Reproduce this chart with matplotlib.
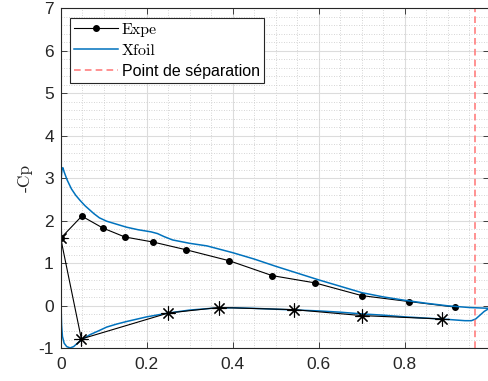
import matplotlib
matplotlib.use("Agg")
import matplotlib.pyplot as plt
from matplotlib.ticker import MultipleLocator

plt.rcParams['font.family'] = ['Liberation Sans', 'DejaVu Sans']
plt.rcParams['axes.unicode_minus'] = False

# Experimental data, upper surface (dots)
x_expe_up = [0.0, 0.049, 0.098, 0.149, 0.215, 0.291, 0.392, 0.492, 0.591, 0.700, 0.810, 0.917]
cp_expe_up = [1.59, 2.11, 1.83, 1.62, 1.50, 1.32, 1.06, 0.71, 0.54, 0.24, 0.10, -0.03]

# Experimental data, lower surface (stars)
x_expe_low = [0.0, 0.048, 0.250, 0.367, 0.543, 0.700, 0.886]
cp_expe_low = [1.59, -0.78, -0.17, -0.04, -0.09, -0.23, -0.31]

# Xfoil, from trailing edge over upper surface to leading edge, then lower surface
x_xfoil = [1.0, 0.95, 0.90, 0.85, 0.80, 0.75, 0.70, 0.65, 0.60, 0.55, 0.50, 0.45,
           0.40, 0.34, 0.30, 0.28, 0.26, 0.24, 0.225, 0.21, 0.18, 0.153, 0.13, 0.107,
           0.09, 0.077, 0.057, 0.045, 0.035, 0.025, 0.015, 0.008, 0.005, 0.003, 0.0015,
           0.0006, 0.0005, 0.0008, 0.002, 0.004, 0.008, 0.014, 0.022, 0.030, 0.040,
           0.050, 0.068, 0.090, 0.107, 0.130, 0.153, 0.20, 0.25, 0.30, 0.35, 0.40,
           0.45, 0.50, 0.55, 0.60, 0.65, 0.70, 0.75, 0.80, 0.85, 0.90, 0.94, 0.955,
           0.965, 0.975, 0.985, 0.995, 1.0]
cp_xfoil = [-0.06, -0.04, 0.00, 0.06, 0.13, 0.21, 0.31, 0.46, 0.61, 0.77, 0.93, 1.10,
            1.25, 1.41, 1.47, 1.51, 1.55, 1.63, 1.70, 1.74, 1.79, 1.85, 1.92, 1.99,
            2.07, 2.17, 2.35, 2.48, 2.60, 2.75, 2.96, 3.15, 3.25, 3.22, 3.05,
            2.70, 1.00, 0.00, -0.45, -0.72, -0.88, -0.96, -0.99, -0.96, -0.87,
            -0.79, -0.68, -0.58, -0.50, -0.43, -0.37, -0.26, -0.17, -0.10, -0.06, -0.045,
            -0.06, -0.08, -0.10, -0.12, -0.15, -0.19, -0.22, -0.26, -0.29, -0.32, -0.35, -0.35,
            -0.31, -0.22, -0.13, -0.07, -0.06]

x_separation = 0.963

fig = plt.figure(figsize=(4.88, 3.81), dpi=100)
ax = fig.add_axes([0.1244, 0.0858, 0.8768, 0.8924])

ax.plot(x_expe_up, cp_expe_up, '-', color='black', lw=0.8, marker='o',
        markersize=4, label=r'Expe')
ax.plot(x_xfoil, cp_xfoil, '-', color='#0072BD', lw=1.1, label='Xfoil')
ax.axvline(x_separation, color='#ff7f7f', ls=(0, (4, 2.5)), lw=1.2,
           label='Point de séparation')
ax.plot(x_expe_low, cp_expe_low, '-', color='black', lw=0.8, marker=(8, 2, 0),
        markersize=10, markeredgewidth=0.8)

ax.set_xlim(0, 0.995)
ax.set_ylim(-1, 7)
ax.set_xticks([0, 0.2, 0.4, 0.6, 0.8])
ax.set_yticks(range(-1, 8))
ax.set_xticklabels(['0', '0.2', '0.4', '0.6', '0.8'])
ax.xaxis.set_minor_locator(MultipleLocator(0.05))
ax.yaxis.set_minor_locator(MultipleLocator(0.2))

ax.grid(which='major', color='#dcdcdc', lw=0.8)
ax.grid(which='minor', color='#c8c8c8', ls=(0, (1, 2)), lw=0.6)
ax.set_axisbelow(True)

ax.tick_params(which='major', direction='in', top=True, right=True, length=4,
               width=0.6, color='#262626', labelcolor='#262626', labelsize=12.5)
ax.tick_params(axis='x', pad=6)
ax.tick_params(axis='y', pad=5)
ax.tick_params(which='minor', length=0)
for s in ax.spines.values():
    s.set_color('#262626')
    s.set_linewidth(0.8)

ax.set_ylabel('-Cp', fontfamily='cmr10', fontsize=12.5, color='#262626', labelpad=4)

leg = ax.legend(loc='upper left', bbox_to_anchor=(0.0216, 0.9706), borderaxespad=0,
                fancybox=False, framealpha=1, edgecolor='#262626', fontsize=11.5,
                handlelength=2.7, handletextpad=0.25, borderpad=0.28, labelspacing=0.4)
leg.get_frame().set_linewidth(0.8)
for t in leg.get_texts()[:2]:
    t.set_fontfamily('cmr10')

fig.savefig('out.png', dpi=100)
